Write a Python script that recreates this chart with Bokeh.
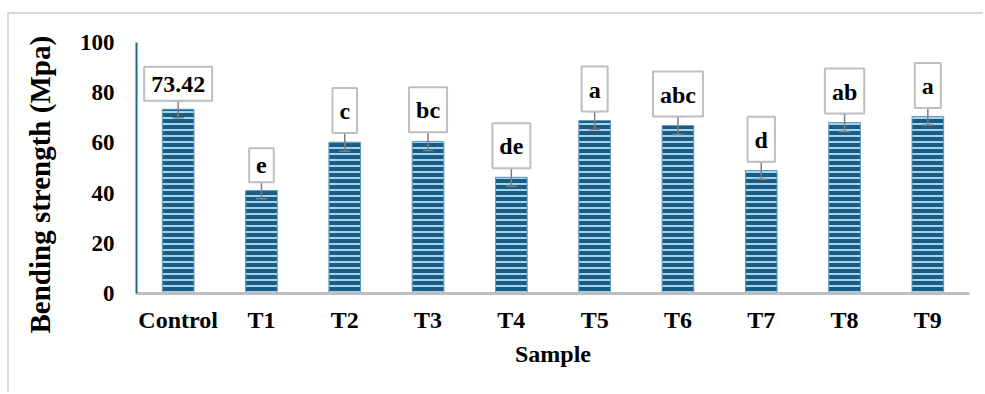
from bokeh.plotting import figure
from bokeh.models import (ColumnDataSource, FactorRange, Range1d, Whisker, TeeHead,
                          Title, FixedTicker)
from bokeh.core.properties import value
from bokeh.embed import file_html
from bokeh.resources import INLINE

categories = ["Control", "T1", "T2", "T3", "T4", "T5", "T6", "T7", "T8", "T9"]
values = [73.42, 41.0, 60.3, 60.6, 46.3, 68.9, 66.9, 49.0, 68.1, 70.5]
errors = [3.4, 3.3, 3.6, 3.6, 3.6, 3.6, 3.6, 3.5, 3.6, 3.4]
letters = ["73.42", "e", "c", "bc", "de", "a", "abc", "d", "ab", "a"]
y_ticks = [0, 20, 40, 60, 80, 100]
y_title = "Bending strength (Mpa)"
x_title = "Sample"

FONT = "Liberation Serif"

src = ColumnDataSource(dict(
    cat=categories,
    val=values,
    lo=[v - e for v, e in zip(values, errors)],
    hi=[v + e for v, e in zip(values, errors)],
    lab=letters,
))

p = figure(x_range=FactorRange(*categories, range_padding=0), y_range=Range1d(0, 100),
           width=983, height=380, output_backend="svg", toolbar_location=None,
           min_border_left=136, min_border_right=14, min_border_top=30, min_border_bottom=99)
p.margin = (12, 0, 0, 0)
p.styles = {"background": ("linear-gradient(#d9d9d9,#d9d9d9) 7px 0px / 2px 100% no-repeat, "
                           "linear-gradient(#d9d9d9,#d9d9d9) 7px 0px / 100% 2px no-repeat")}
p.border_fill_alpha = 0
p.outline_line_color = None
p.xgrid.grid_line_color = None
p.ygrid.grid_line_color = None
p.background_fill_color = "white"

p.vbar(x="cat", top="val", width=0.38, source=src,
       fill_color="#1a5c84", line_color="#5f9cc0", line_width=1,
       hatch_pattern="horizontal_line", hatch_color="#a6d3ea",
       hatch_scale=6, hatch_weight=2)

wh = Whisker(base="cat", lower="lo", upper="hi", source=src,
             line_color="#7f7f7f", line_width=1.5,
             lower_head=TeeHead(size=11, line_color="#7f7f7f", line_width=1.5),
             upper_head=TeeHead(size=11, line_color="#7f7f7f", line_width=1.5))
wh.level = "glyph"
p.add_layout(wh)

p.text(x="cat", y="hi", text="lab", source=src,
       text_align=value("center"), text_baseline=value("bottom"),
       text_font=value(FONT), text_font_style=value("bold"), text_font_size=value("24px"),
       text_color="black", background_fill_color="white",
       border_line_color="#bfbfbf", border_line_width=2,
       padding=dict(left=7, right=7, top=10, bottom=9), level="overlay")

xa = p.xaxis[0]
xa.axis_line_color = "#bfbfbf"
xa.axis_line_width = 3
xa.major_tick_line_color = None
xa.minor_tick_line_color = None
xa.major_label_text_font = FONT
xa.major_label_text_font_style = "bold"
xa.major_label_text_font_size = "24px"
xa.major_label_text_color = "black"
xa.major_label_standoff = 7
xa.axis_label = x_title
xa.axis_label_text_font = FONT
xa.axis_label_text_font_style = "bold"
xa.axis_label_text_font_size = "24px"
xa.axis_label_text_color = "black"
xa.axis_label_standoff = 5

ya = p.yaxis[0]
ya.ticker = FixedTicker(ticks=y_ticks)
ya.axis_line_color = "#1f6391"
ya.axis_line_width = 2
ya.major_tick_line_color = None
ya.minor_tick_line_color = None
ya.major_label_text_font = FONT
ya.major_label_text_font_style = "bold"
ya.major_label_text_font_size = "23px"
ya.major_label_text_color = "black"
ya.major_label_standoff = 16

p.add_layout(Title(text=y_title, align="left", offset=-40,
                   text_font=FONT, text_font_style="bold", text_font_size="29px",
                   text_color="black", standoff=42), "left")

open("out.html", "w").write(file_html(p, INLINE))
